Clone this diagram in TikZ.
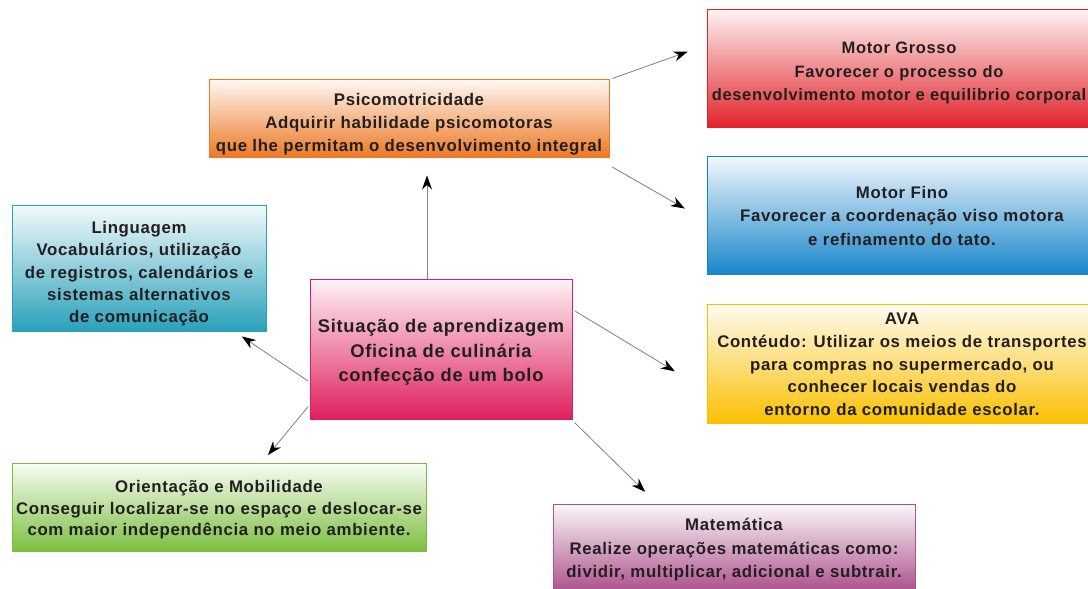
\documentclass[tikz,border=0pt]{standalone}
\usepackage{fontspec}
\setmainfont{Liberation Sans}[LetterSpace=4]
\usetikzlibrary{arrows.meta}
\definecolor{laranja}{RGB}{236,120,36}
\definecolor{vermelho}{RGB}{224,34,40}
\definecolor{azul}{RGB}{22,132,202}
\definecolor{turquesa}{RGB}{40,160,186}
\definecolor{rosa}{RGB}{222,30,92}
\definecolor{amarelo}{RGB}{250,192,0}
\definecolor{verde}{RGB}{122,190,62}
\definecolor{roxo}{RGB}{172,82,140}
\definecolor{texto}{RGB}{35,31,32}
% empurra o texto para baixo
\newcommand{\desce}[1]{\rule{0pt}{\dimexpr 12pt+#1\relax}}
\tikzset{
  caixa/.style={draw=#1,line width=1pt,top color=#1!6!white,bottom color=#1,
    align=center,inner sep=0pt,text=texto,
    font=\bfseries\fontsize{16.8}{23.5}\selectfont},
  seta/.style={-{Stealth[length=14pt,width=10pt,black]},draw=black!50,line width=0.8pt}
}
\begin{document}
\begin{tikzpicture}[x=1pt,y=1pt]
	\clip (0,0) rectangle (1088,589);
	\node[caixa=laranja,minimum width=400pt,minimum height=78pt,font=\bfseries\fontsize{16.8}{23}\selectfont] (psico) at (409,470)
		{\desce{10pt}Psicomotricidade\\Adquirir habilidade psicomotoras\\que lhe permitam o desenvolvimento integral};
	\node[caixa=vermelho,minimum width=384pt,minimum height=118pt,font=\bfseries\fontsize{16.5}{23.5}\selectfont] (grosso) at (899,520)
		{\desce{8pt}Motor Grosso\\Favorecer o processo do\\desenvolvimento motor e equilibrio corporal};
	\node[caixa=azul,minimum width=390pt,minimum height=118pt] (fino) at (902,373)
		{Motor Fino\\Favorecer a coordenação viso motora\\e refinamento do tato.};
	\node[caixa=amarelo,minimum width=390pt,minimum height=119pt,font=\bfseries\fontsize{16.8}{22.7}\selectfont] (ava) at (902,224.5)
		{AVA\\Contéudo: Utilizar os meios de transportes\\para compras no supermercado, ou\\conhecer locais vendas do\\entorno da comunidade escolar.};
	\node[caixa=turquesa,minimum width=254pt,minimum height=126pt,font=\bfseries\fontsize{16.8}{22.3}\selectfont] (lingua) at (139,320)
		{\desce{10pt}Linguagem\\Vocabulários, utilização\\de registros, calendários e\\sistemas alternativos\\de comunicação};
	\node[caixa=rosa,minimum width=262pt,minimum height=140pt,font=\bfseries\fontsize{18.3}{24.5}\selectfont] (sit) at (441,239)
		{\desce{6pt}Situação de aprendizagem\\Oficina de culinária\\confecção de um bolo};
	\node[caixa=verde,minimum width=414pt,minimum height=88pt,font=\bfseries\fontsize{16.8}{21.5}\selectfont] (orient) at (219,81)
		{\desce{4pt}Orientação e Mobilidade\\Conseguir localizar-se no espaço e deslocar-se\\com maior independência no meio ambiente.};
	\node[caixa=roxo,minimum width=362pt,minimum height=86pt,font=\bfseries\fontsize{16.8}{23.5}\selectfont] (mat) at (734,41)
		{\desce{4pt}Matemática\\Realize operações matemáticas como:\\dividir, multiplicar, adicional e subtrair.};
	% setas
	\draw[seta,shorten >=17pt] ([xshift=-14pt]sit.north) -- ([xshift=18pt]psico.south);
	\draw[seta,shorten <=3pt,shorten >=20pt] (psico.north east) -- ([yshift=24pt]grosso.west);
	\draw[seta,shorten <=3pt,shorten >=25pt] ([yshift=-7pt]psico.south east) -- ([yshift=-5pt]fino.west);
	\draw[seta,shorten <=3pt,shorten >=37pt] ([yshift=-30pt]sit.north east) -- ([yshift=-26pt]ava.west);
	\draw[seta,shorten <=2pt,shorten >=7pt] ([yshift=-32pt]sit.west) -- ([xshift=97pt]lingua.south);
	\draw[seta,shorten <=2pt,shorten >=11pt] ([yshift=-55pt]sit.west) -- ([xshift=42pt]orient.north);
	\draw[seta,shorten <=3pt,shorten >=18pt] (sit.south east) -- ([xshift=-76pt]mat.north);
\end{tikzpicture}
\end{document}
